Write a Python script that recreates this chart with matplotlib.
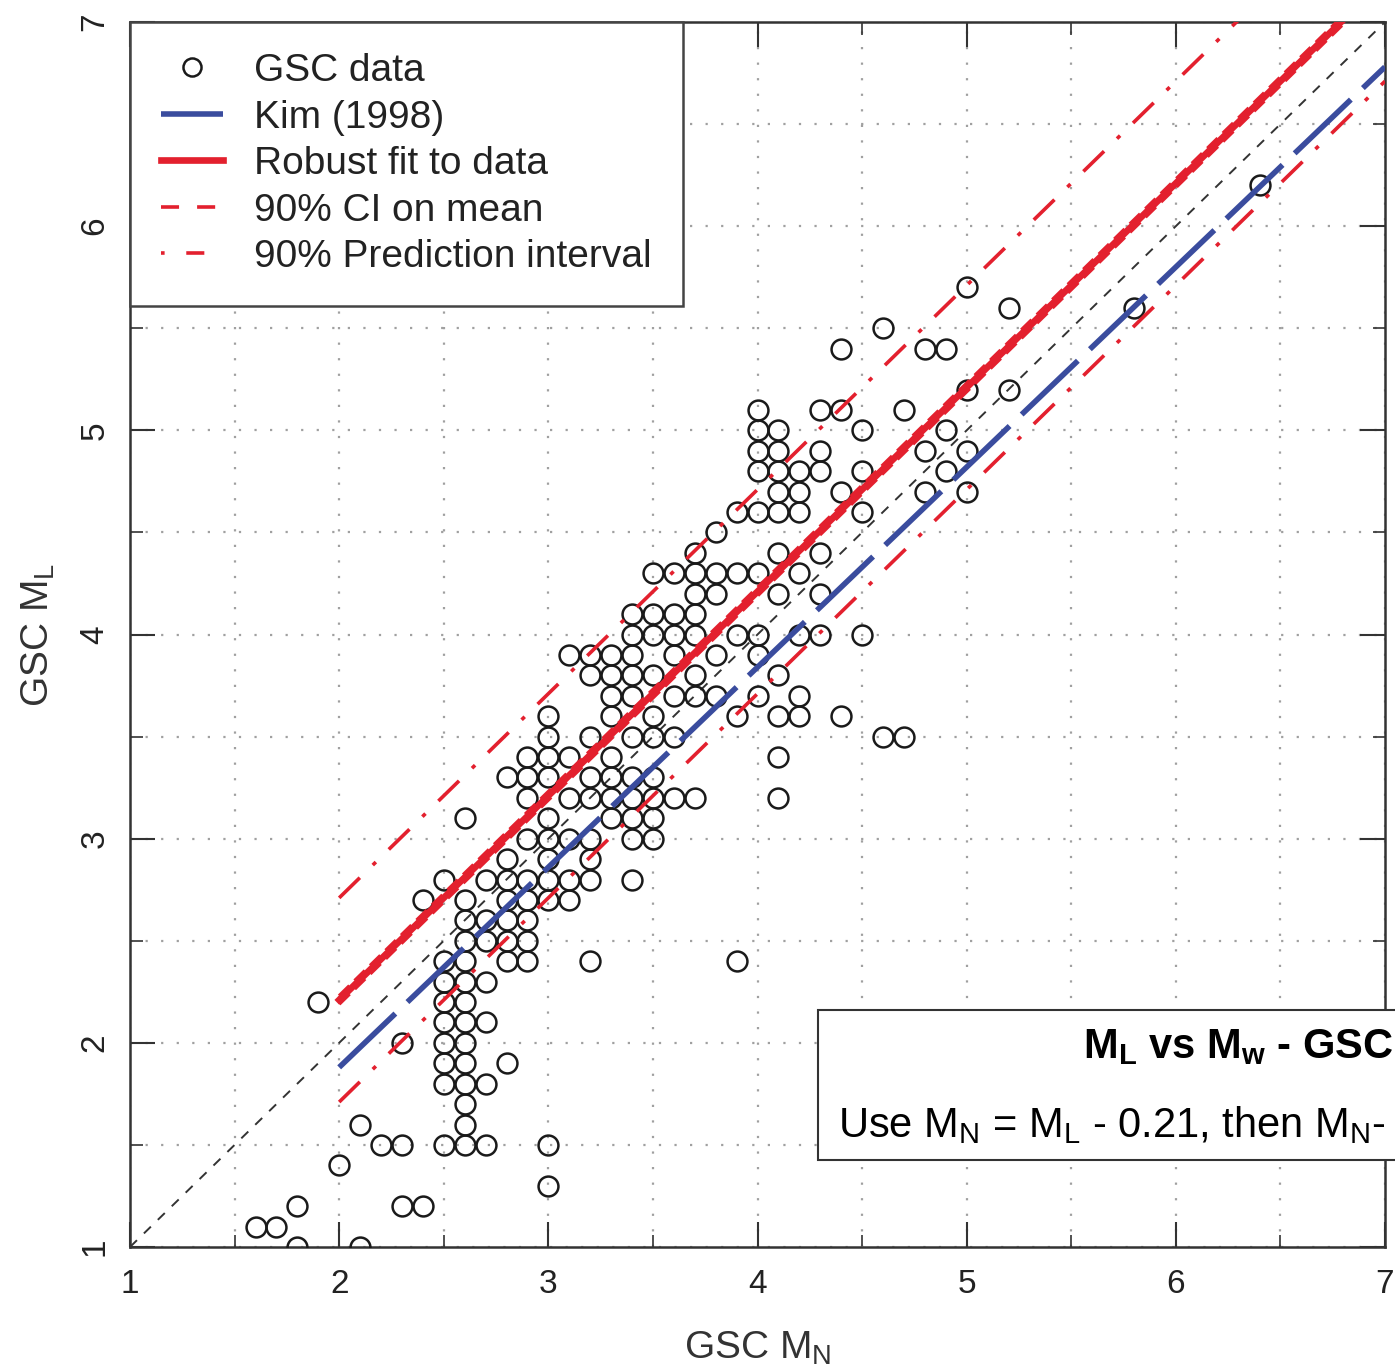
import numpy as np
import matplotlib.pyplot as plt
from matplotlib.lines import Line2D
from matplotlib.patches import Rectangle

plt.rcParams['font.family'] = ['Liberation Sans', 'DejaVu Sans']
plt.rcParams['mathtext.fontset'] = 'custom'
plt.rcParams['mathtext.rm'] = 'Liberation Sans'
plt.rcParams['mathtext.bf'] = 'Liberation Sans:bold'
plt.rcParams['mathtext.it'] = 'Liberation Sans:italic'

# GSC data, one column of ML values per MN value
mn_columns = [1.6, 1.7, 1.8, 1.9, 2.0, 2.1, 2.2, 2.3, 2.4, 2.5, 2.6, 2.7, 2.8, 2.9,
              3.0, 3.1, 3.2, 3.3, 3.4, 3.5, 3.6, 3.7, 3.8, 3.9, 4.0, 4.1, 4.2, 4.3,
              4.4, 4.5, 4.6, 4.7, 4.8, 4.9, 5.0, 5.2, 5.8, 6.4]
ml_by_column = [
    [1.1], [1.1], [1.0, 1.2], [2.2], [1.4], [1.0, 1.6], [1.5], [1.2, 1.5, 2.0],
    [1.2, 2.7],
    [1.5, 1.8, 1.9, 2.0, 2.1, 2.2, 2.3, 2.4, 2.8],
    [1.5, 1.6, 1.7, 1.8, 1.9, 2.0, 2.1, 2.2, 2.3, 2.4, 2.5, 2.6, 2.7, 3.1],
    [1.5, 1.8, 2.1, 2.3, 2.5, 2.6, 2.8],
    [1.9, 2.4, 2.5, 2.6, 2.7, 2.8, 2.9, 3.3],
    [2.4, 2.5, 2.6, 2.7, 2.8, 3.0, 3.2, 3.3, 3.4],
    [1.3, 1.5, 2.7, 2.8, 2.9, 3.0, 3.1, 3.3, 3.4, 3.5, 3.6],
    [2.7, 2.8, 3.0, 3.2, 3.4, 3.9],
    [2.4, 2.8, 2.9, 3.0, 3.2, 3.3, 3.5, 3.8, 3.9],
    [3.1, 3.2, 3.3, 3.4, 3.6, 3.7, 3.8, 3.9],
    [2.8, 3.0, 3.1, 3.2, 3.3, 3.5, 3.7, 3.8, 3.9, 4.0, 4.1],
    [3.0, 3.1, 3.2, 3.3, 3.5, 3.6, 3.8, 4.0, 4.1, 4.3],
    [3.2, 3.5, 3.7, 3.9, 4.0, 4.1, 4.3],
    [3.2, 3.7, 3.8, 4.0, 4.1, 4.2, 4.3, 4.4],
    [3.7, 3.9, 4.2, 4.3, 4.5],
    [2.4, 3.6, 4.0, 4.3, 4.6],
    [3.7, 3.9, 4.0, 4.3, 4.6, 4.8, 4.9, 5.0, 5.1],
    [3.2, 3.4, 3.6, 3.8, 4.2, 4.4, 4.6, 4.7, 4.8, 4.9, 5.0],
    [3.6, 3.7, 4.0, 4.3, 4.6, 4.7, 4.8],
    [4.0, 4.2, 4.4, 4.8, 4.9, 5.1],
    [3.6, 4.7, 5.1, 5.4],
    [4.0, 4.6, 4.8, 5.0],
    [3.5, 5.5], [3.5, 5.1], [4.7, 4.9, 5.4], [4.8, 5.0, 5.4],
    [4.7, 4.9, 5.2, 5.7], [5.2, 5.6], [5.6], [6.2],
]

# fitted relations (ML as a function of MN)
fit_range = [2.0, 7.0]
fit_slope, fit_intercept = 1.0, 0.21
ci_half = 0.02
pi_half = 0.5
kim_slope, kim_intercept = 0.98, -0.08

gsc_mn = np.concatenate([[x] * len(ys) for x, ys in zip(mn_columns, ml_by_column)])
gsc_ml = np.concatenate(ml_by_column)

red = '#e3202e'
blue = '#3a4c9e'

fig = plt.figure(figsize=(13.95, 13.72), dpi=100)
ax = fig.add_axes([130 / 1395, 1 - 1247 / 1372, 1255 / 1395, 1225 / 1372])

xf = np.array(fit_range)
ax.plot([1, 7], [1, 7], color='#333333', lw=1.4, dashes=(5, 5), zorder=2)
ax.plot(gsc_mn, gsc_ml, 'o', ms=14.3, mfc='none', mec='#1a1a1a', mew=1.8, zorder=3)
ax.plot(xf, kim_slope * xf + kim_intercept, color=blue, lw=4, dashes=(14, 3), zorder=4)
for s in (1, -1):
    ax.plot(xf, fit_slope * xf + fit_intercept + s * pi_half, color=red, lw=2.6,
            dashes=(8, 5, 1.2, 5), zorder=4)
    ax.plot(xf, fit_slope * xf + fit_intercept + s * ci_half, color=red, lw=2.6,
            dashes=(4, 2), zorder=5)
ax.plot(xf, fit_slope * xf + fit_intercept, color=red, lw=4.8, zorder=5)

ax.set_xlim(1, 7)
ax.set_ylim(1, 7)
ax.set_xticks(range(1, 8))
ax.set_yticks(range(1, 8))
ax.set_xticks(np.arange(1.5, 7, 1), minor=True)
ax.set_yticks(np.arange(1.5, 7, 1), minor=True)
ax.grid(which='both', color='#a0a0a0', lw=1.6, linestyle=(0, (1, 6)))
ax.tick_params(which='both', direction='in', top=True, right=True, color='#333333',
               labelsize=24, labelcolor='#222222')
ax.tick_params(which='major', length=18, width=1.5, pad=16)
ax.tick_params(which='minor', length=9, width=1.2)
ax.tick_params(axis='y', labelrotation=90, pad=14)
for lab in ax.get_yticklabels():
    lab.set_va('center')
for sp in ax.spines.values():
    sp.set_color('#333333')
    sp.set_linewidth(1.8)

ax.set_xlabel(r'GSC $\mathrm{M_N}$', fontsize=28, color='#333333', labelpad=21)
ax.set_ylabel(r'GSC $\mathrm{M_L}$', fontsize=28, color='#333333', labelpad=16)

handles = [
    Line2D([], [], ls='none', marker='o', ms=13, mfc='none', mec='#1a1a1a', mew=1.8),
    Line2D([], [], color=blue, lw=4, dashes=(14, 3)),
    Line2D([], [], color=red, lw=4.8),
    Line2D([], [], color=red, lw=2.6, dashes=(5, 5)),
    Line2D([], [], color=red, lw=2.6, dashes=(1, 6, 5, 6)),
]
labels = ['GSC data', 'Kim (1998)', 'Robust fit to data', '90% CI on mean',
          '90% Prediction interval']
leg = ax.legend(handles, labels, loc='upper left', borderaxespad=0, fontsize=28,
                frameon=True, fancybox=False, framealpha=1, edgecolor='#444444',
                handlelength=1.6, handletextpad=0.8, borderpad=0.8, labelspacing=0.27)
leg.get_frame().set_linewidth(1.8)
for t in leg.get_texts():
    t.set_color('#222222')

# note box in lower right, running past the figure edge
box = Rectangle((818 / 1395, 1 - 1160 / 1372), 0.6, 150 / 1372, transform=fig.transFigure,
                facecolor='white', edgecolor='#333333', lw=1.5, zorder=10, clip_on=False)
fig.patches.append(box)
fig.text(1393 / 1395, 1 - 1047 / 1372, r'$\mathbf{M_L}$ vs $\mathbf{M_w}$ - GSC',
         fontsize=30, fontweight='bold', ha='right', va='center', zorder=11)
fig.text(838 / 1395, 1 - 1125 / 1372,
         r'Use $\mathrm{M_N}$ = $\mathrm{M_L}$ - 0.21, then $\mathrm{M_N}$-',
         fontsize=30, ha='left', va='center', zorder=11)

plt.savefig('out.png', dpi=100)
